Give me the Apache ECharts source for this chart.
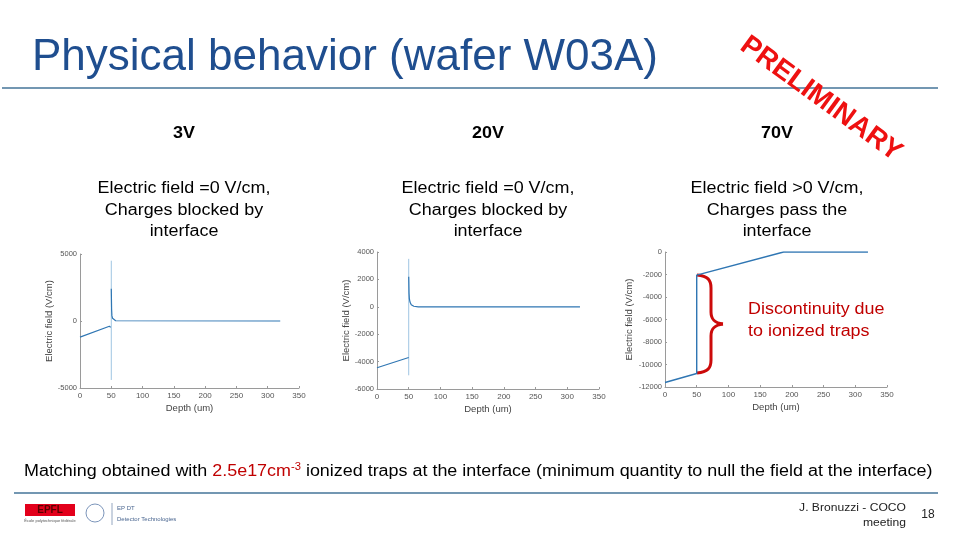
<!DOCTYPE html>
<html><head><meta charset="utf-8">
<script src="https://cdn.jsdelivr.net/npm/echarts@6/dist/echarts.min.js"></script>
<style>html,body{margin:0;padding:0;background:#fff}#c{width:960px;height:540px}</style>
</head><body><div id="c"></div>
<script>
// ---- data ----
const xTicks = [0, 50, 100, 150, 200, 250, 300, 350];
// 3V
const depth3V = [0, 47, 49, 49.5, 50, 50.5, 51, 52, 54, 57, 60, 320];
const field3V = [-1200, -390, -480, null, 2400, 900, 400, 200, 80, 20, 0, 0];
const spike3VDepth = [50, 50];
const spike3VField = [4500, -4400];
// 20V
const depth20V = [0, 50, 50, 50, 50.5, 51, 52, 54, 58, 65, 320];
const field20V = [-4450, -3700, null, 2200, 1000, 600, 350, 150, 40, 0, 0];
const spike20VDepth = [50, 50];
const spike20VField = [3500, -5000];
// 70V
const depth70V = [0, 50, 50, 187, 320];
const field70V = [-11600, -10800, -2050, 0, 0];
// y axis ranges
const yRange3V = [-5000, 5000, 5000];
const yRange20V = [-6000, 4000, 2000];
const yRange70V = [-12000, 0, 2000];

function pairs(xs, ys) { return xs.map((x, i) => [x, ys[i] === null ? '-' : ys[i]]); }

const FONT = '"Liberation Sans", Arial, sans-serif';
const LINE = '#2f76b3';
const LIGHT = '#9fc5e2';
const AX = '#9a9a9a';
const LBL = '#555';
const SX = 1.12;

const grids = [
  { left: 80, top: 254, width: 219, height: 134 },
  { left: 377, top: 252, width: 222, height: 137 },
  { left: 665, top: 252, width: 222, height: 135 }
];
const ranges = [yRange3V, yRange20V, yRange70V];
const plain = v => String(v);

const xAxes = grids.map((g, i) => ({
  type: 'value', gridIndex: i, min: xTicks[0], max: xTicks[xTicks.length - 1], interval: 50,
  name: 'Depth (um)', nameLocation: 'middle', nameGap: 15,
  nameTextStyle: { fontFamily: FONT, fontSize: 9.5, color: '#444' },
  axisLine: { onZero: false, lineStyle: { color: AX, width: 1 } },
  axisTick: { inside: true, length: 2, lineStyle: { color: AX } },
  axisLabel: { fontFamily: FONT, fontSize: 8, color: LBL, margin: 4, formatter: plain },
  splitLine: { show: false }
}));
const yAxes = grids.map((g, i) => ({
  type: 'value', gridIndex: i, min: ranges[i][0], max: ranges[i][1], interval: ranges[i][2],
  name: 'Electric field (V/cm)', nameLocation: 'middle', nameGap: 22,
  nameTextStyle: { fontFamily: FONT, fontSize: 9.5, color: '#444' },
  axisLine: { show: true, onZero: false, lineStyle: { color: AX, width: 1 } },
  axisTick: { show: true, inside: true, length: 2, lineStyle: { color: AX } },
  axisLabel: { fontFamily: FONT, fontSize: 7.5, color: LBL, margin: 3, formatter: plain },
  splitLine: { show: false }
}));

function lineSeries(i, data, color, w) {
  return { type: 'line', xAxisIndex: i, yAxisIndex: i, data: data, showSymbol: false, symbol: 'none',
    lineStyle: { color: color, width: w }, animation: false, silent: true };
}

const series = [
  lineSeries(0, pairs(spike3VDepth, spike3VField), LIGHT, 1),
  lineSeries(0, pairs(depth3V, field3V), LINE, 1.2),
  lineSeries(1, pairs(spike20VDepth, spike20VField), LIGHT, 1),
  lineSeries(1, pairs(depth20V, field20V), LINE, 1.2),
  lineSeries(2, pairs(depth70V, field70V), LINE, 1.4)
];

function txt(x, y, text, size, opts, extra) {
  return Object.assign({ type: 'text', x: x, y: y, silent: true,
    style: Object.assign({ text: text, fontFamily: FONT, fontSize: size, fill: '#000', align: 'center', verticalAlign: 'middle' }, opts || {}) }, extra || {});
}
function bez(x1, y1, c1x, c1y, c2x, c2y, x2, y2) {
  return { type: 'bezierCurve', silent: true,
    shape: { x1: x1, y1: y1, cpx1: c1x, cpy1: c1y, cpx2: c2x, cpy2: c2y, x2: x2, y2: y2 },
    style: { stroke: '#cc0a0a', lineWidth: 3, fill: null } };
}
function seg(x1, y1, x2, y2, color, w) {
  return { type: 'line', silent: true, shape: { x1: x1, y1: y1, x2: x2, y2: y2 }, style: { stroke: color, lineWidth: w } };
}

const cols = [184, 488, 777];
const volts = ['3V', '20V', '70V'];
const desc = [
  ['Electric field =0 V/cm,', 'Charges blocked by', 'interface'],
  ['Electric field =0 V/cm,', 'Charges blocked by', 'interface'],
  ['Electric field >0 V/cm,', 'Charges pass the', 'interface']
];
const st = { scaleX: SX };

const graphic = [
  seg(2, 88, 938, 88, '#7397b2', 2),
  seg(14, 493, 938, 493, '#7397b2', 2),
  txt(32, 58, 'Physical behavior (wafer W03A)', 44, { align: 'left', fill: '#1f4e8f' }),
  // PRELIMINARY stamp
  txt(821, 99, 'PRELIMINARY', 28, { fontWeight: 'bold', fill: '#ee1111' }, { rotation: -36 * Math.PI / 180 }),
  // red brace
  bez(697, 275, 708, 276, 711, 280, 711, 288),
  seg(711, 288, 711, 312, '#cc0a0a', 3),
  bez(711, 312, 711, 320, 715, 323, 723, 324),
  bez(723, 324, 715, 325, 711, 328, 711, 336),
  seg(711, 336, 711, 360, '#cc0a0a', 3),
  bez(711, 360, 711, 368, 708, 372, 697, 373),
  txt(748, 310, 'Discontinuity due', 16, { align: 'left', fill: '#c00000' }, st),
  txt(748, 332, 'to ionized traps', 16, { align: 'left', fill: '#c00000' }, st),
  // bottom sentence
  { type: 'text', x: 24, y: 472, silent: true, scaleX: SX,
    style: { text: '{a|Matching obtained with }{r|2.5e17cm}{s|-3}{a| ionized traps at the interface (minimum quantity to null the field at the interface)}',
      fontFamily: FONT, align: 'left', verticalAlign: 'middle',
      rich: {
        a: { fontFamily: FONT, fontSize: 16, fill: '#000', lineHeight: 20 },
        r: { fontFamily: FONT, fontSize: 16, fill: '#c00000', lineHeight: 20 },
        s: { fontFamily: FONT, fontSize: 10, fill: '#c00000', lineHeight: 20, verticalAlign: 'top' }
      } } },
  // footer
  txt(906, 508, 'J. Bronuzzi - COCO', 11, { align: 'right', fill: '#222' }, { scaleX: 1.1 }),
  txt(906, 523, 'meeting', 11, { align: 'right', fill: '#222' }, { scaleX: 1.1 }),
  txt(928, 515, '18', 12, { align: 'center', fill: '#222' }),
  { type: 'rect', shape: { x: 25, y: 504, width: 50, height: 12 }, style: { fill: '#e3001b' }, silent: true },
  txt(50, 510, 'EPFL', 10, { fill: '#5a0000', fontWeight: 'bold' }),
  txt(50, 521, 'École polytechnique fédérale', 4, { fill: '#555' }),
  { type: 'circle', shape: { cx: 95, cy: 513, r: 9 }, style: { stroke: '#5a7aa8', fill: null, lineWidth: 0.8 }, silent: true },
  seg(112, 503, 112, 525, '#7a90b0', 0.8),
  txt(117, 508, 'EP DT', 6, { align: 'left', fill: '#4a6690' }),
  txt(117, 519, 'Detector Technologies', 6, { align: 'left', fill: '#4a6690' })
];
cols.forEach((cx, i) => {
  graphic.push(txt(cx, 134, volts[i], 16, { fontWeight: 'bold' }, st));
  desc[i].forEach((t, j) => graphic.push(txt(cx, 189 + j * 21.5, t, 16, null, st)));
});

const chart = echarts.init(document.getElementById('c'), null, { renderer: 'canvas' });
chart.setOption({
  animation: false,
  backgroundColor: '#fff',
  grid: grids,
  xAxis: xAxes,
  yAxis: yAxes,
  series: series,
  graphic: graphic
});
</script></body></html>
